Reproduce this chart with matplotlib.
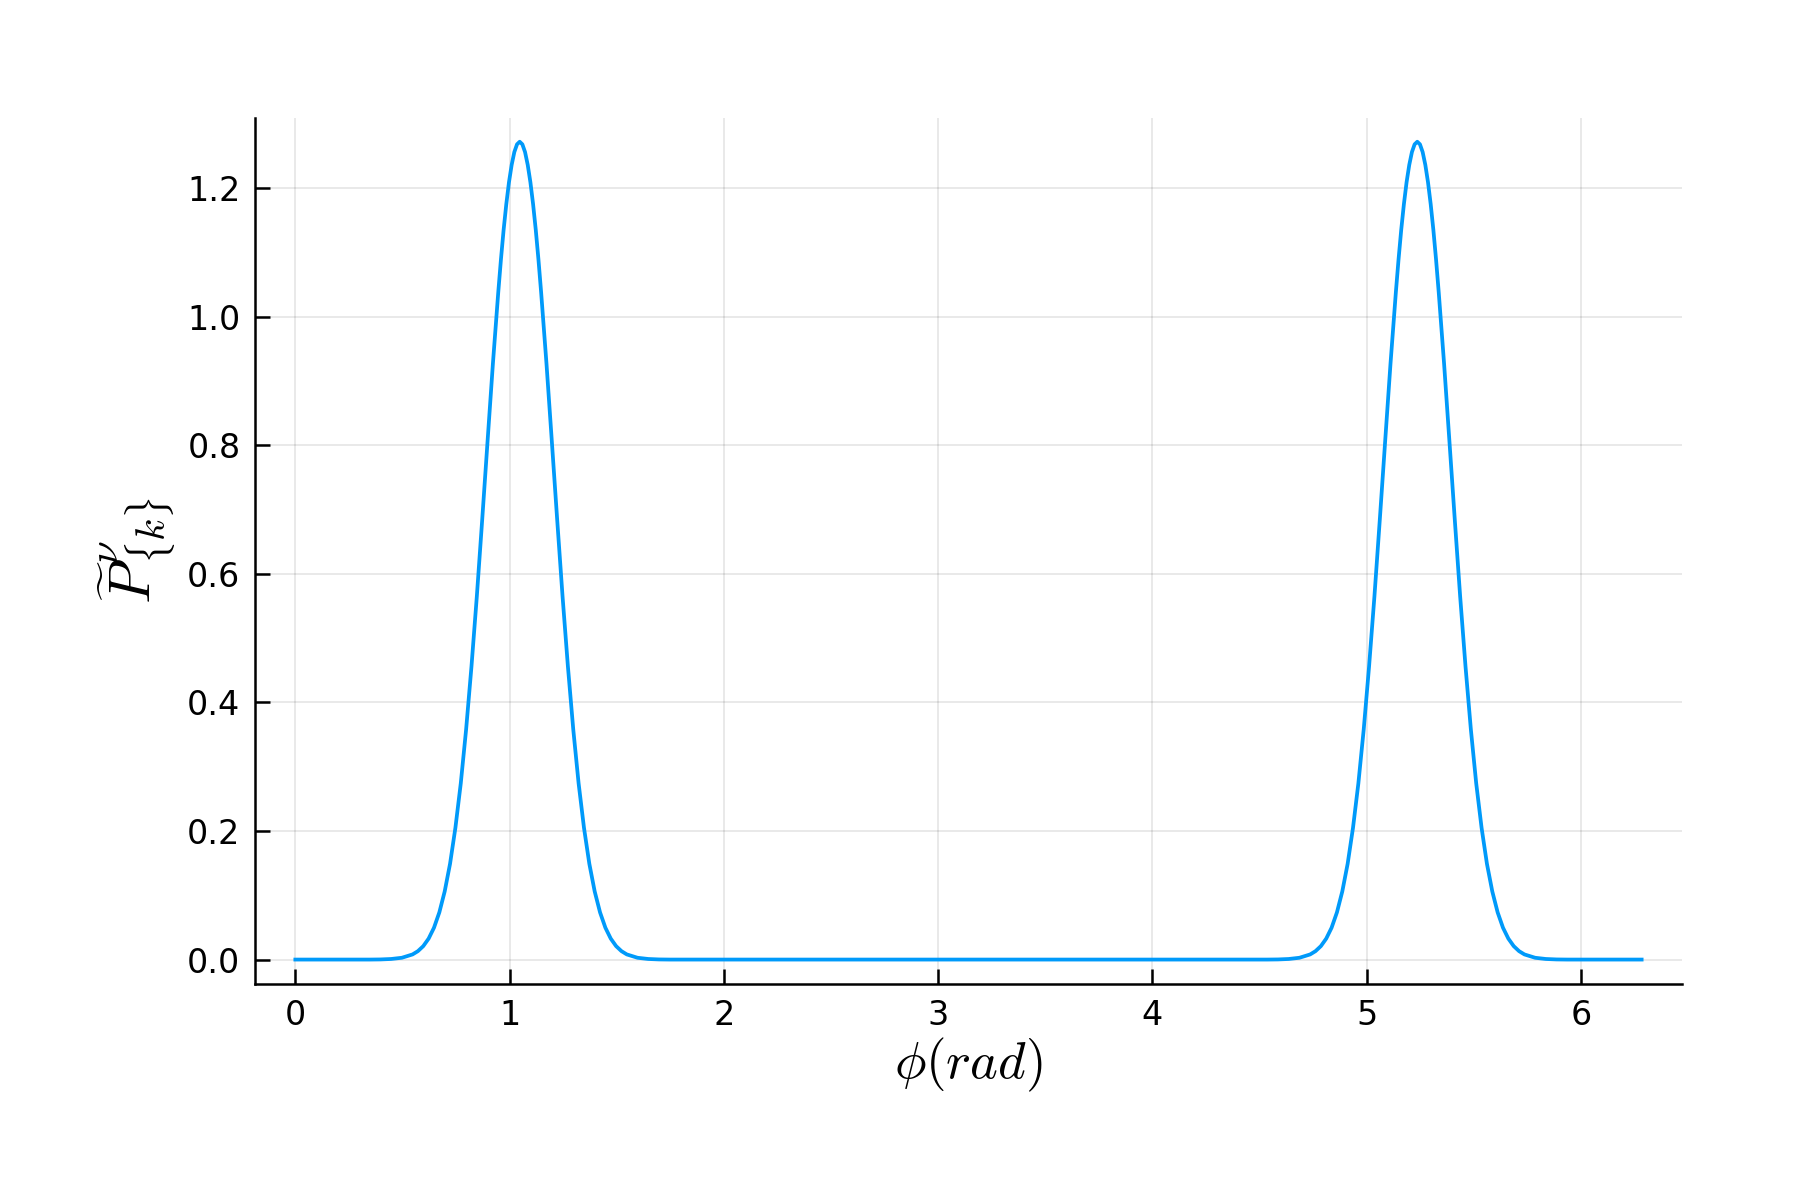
import numpy as np
import matplotlib
matplotlib.use("Agg")
import matplotlib.pyplot as plt

plt.rcParams["mathtext.fontset"] = "cm"

# values (two peaks near pi/3 and 5pi/3)
phi_peak1 = [0.347, 0.397, 0.447, 0.497, 0.547, 0.572, 0.597, 0.622, 0.647, 0.672,
             0.697, 0.722, 0.747, 0.772, 0.797, 0.822, 0.847, 0.872, 0.897, 0.922,
             0.947, 0.9595, 0.972, 0.9845, 0.997, 1.0095, 1.022, 1.0345, 1.047,
             1.0595, 1.072, 1.0845, 1.097, 1.1095, 1.122, 1.1345, 1.147, 1.172,
             1.197, 1.222, 1.247, 1.272, 1.297, 1.322, 1.347, 1.372, 1.397, 1.422,
             1.447, 1.472, 1.497, 1.522, 1.547, 1.597, 1.647, 1.697, 1.747]
phi_peak2 = [4.536, 4.586, 4.636, 4.686, 4.736, 4.761, 4.786, 4.811, 4.836, 4.861,
             4.886, 4.911, 4.936, 4.961, 4.986, 5.011, 5.036, 5.061, 5.086, 5.111,
             5.136, 5.1485, 5.161, 5.1735, 5.186, 5.1985, 5.211, 5.2235, 5.236,
             5.2485, 5.261, 5.2735, 5.286, 5.2985, 5.311, 5.3235, 5.336, 5.361,
             5.386, 5.411, 5.436, 5.461, 5.486, 5.511, 5.536, 5.561, 5.586, 5.611,
             5.636, 5.661, 5.686, 5.711, 5.736, 5.786, 5.836, 5.886, 5.936]
p_rise = [0.0000, 0.0002, 0.0009, 0.0028, 0.0080, 0.0131, 0.0209, 0.0326, 0.0495,
          0.0734, 0.106, 0.149, 0.205, 0.274, 0.358, 0.456, 0.565, 0.684, 0.806,
          0.927, 1.038, 1.089, 1.135, 1.175, 1.209, 1.236, 1.256, 1.268]
p_top = [1.272]
p_peak = p_rise + p_top + p_rise[::-1]

phi_start = [0.0]
phi_end = [6.283]

phi = np.array(phi_start + phi_peak1 + phi_peak2 + phi_end)
p = np.array([0.0] + p_peak + p_peak + [0.0])

fig = plt.figure(figsize=(6, 4), dpi=300)
ax = fig.add_axes([0.1417, 0.18, 0.7927, 0.7217])

ax.plot(phi, p, color="#009AFA", lw=0.9, solid_joinstyle="round")

ax.set_xlim(-0.188, 6.471)
ax.set_ylim(-0.038, 1.309)
ax.set_xticks([0, 1, 2, 3, 4, 5, 6])
ax.set_yticks([0.0, 0.2, 0.4, 0.6, 0.8, 1.0, 1.2])
ax.set_yticklabels(["0.0", "0.2", "0.4", "0.6", "0.8", "1.0", "1.2"])

ax.grid(True, color="black", alpha=0.1, lw=0.4)
for s in ["top", "right"]:
    ax.spines[s].set_visible(False)
for s in ["left", "bottom"]:
    ax.spines[s].set_linewidth(0.6)
ax.tick_params(direction="in", length=3.5, width=0.6, labelsize=8)

ax.set_xlabel(r"$\phi(rad)$", fontsize=12.7, labelpad=1)
ax.set_ylabel(r"$\widetilde{P}^{\nu}_{\{k\}}$", fontsize=14, labelpad=2)

fig.savefig("out.png", dpi=300)
